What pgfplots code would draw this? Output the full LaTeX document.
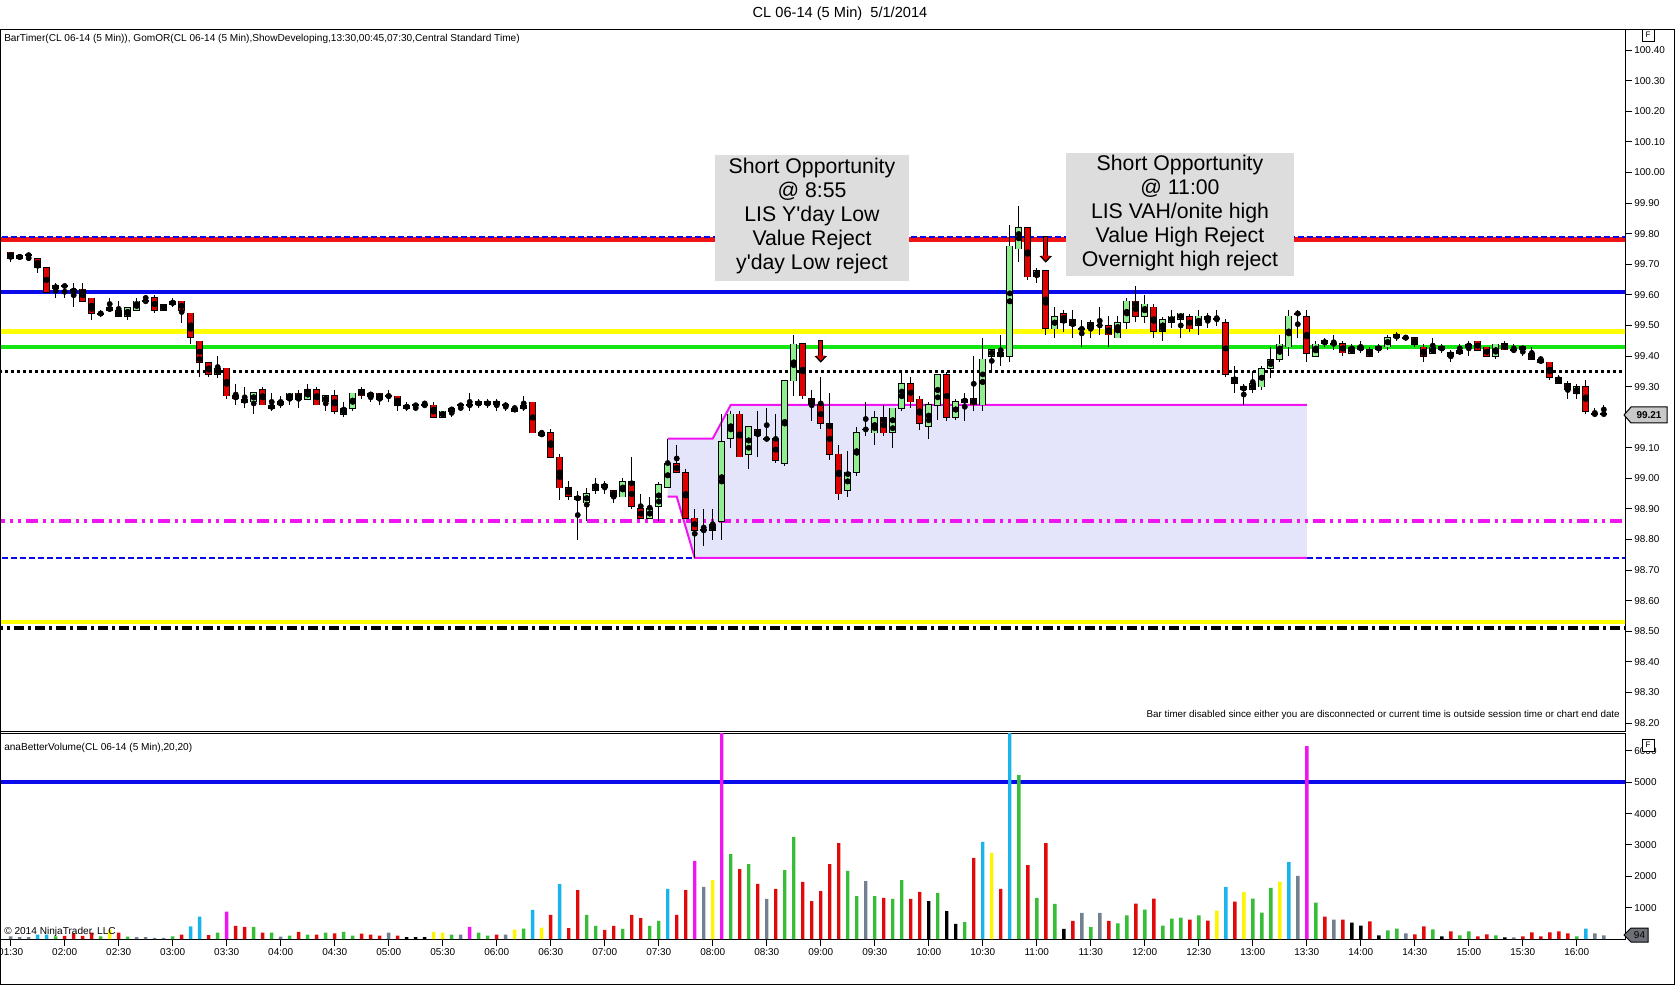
\documentclass[border=0pt]{standalone}
\usepackage{pgfplots}
\pgfplotsset{compat=1.18}
\usepackage{pgfplotstable}
\usepackage{fontspec}
\setmainfont{Liberation Sans}
\newfontfamily\boxfont{Liberation Sans}
\usetikzlibrary{arrows.meta}

\definecolor{lnred}{RGB}{240,20,20}
\definecolor{lnblue}{RGB}{10,10,235}
\definecolor{lnyellow}{RGB}{255,255,0}
\definecolor{lngreen}{RGB}{20,230,20}
\definecolor{lnmag}{RGB}{240,20,240}
\definecolor{cgreen}{RGB}{144,238,144}
\definecolor{cred}{RGB}{225,0,0}
\definecolor{vcyan}{RGB}{25,180,235}
\definecolor{vgreen}{RGB}{55,190,55}
\definecolor{vgray}{RGB}{115,128,145}
\definecolor{vred}{RGB}{225,10,10}
\definecolor{vyellow}{RGB}{255,245,0}
\definecolor{vmag}{RGB}{240,20,240}
\definecolor{orfill}{RGB}{228,228,250}
\definecolor{boxgray}{RGB}{221,221,221}
\definecolor{taggray}{RGB}{200,200,200}
\definecolor{tagdark}{RGB}{110,112,120}

\pgfplotstableread{
t o h l c
90 99.74 99.74 99.71 99.72
95 99.72 99.73 99.72 99.73
100 99.73 99.73 99.71 99.73
105 99.72 99.72 99.67 99.69
110 99.69 99.69 99.61 99.61
115 99.62 99.64 99.59 99.63
120 99.63 99.63 99.59 99.63
125 99.62 99.64 99.56 99.61
130 99.62 99.64 99.58 99.58
135 99.59 99.59 99.52 99.54
140 99.54 99.55 99.53 99.54
145 99.55 99.59 99.55 99.56
150 99.55 99.58 99.53 99.53
155 99.53 99.56 99.52 99.56
160 99.55 99.59 99.55 99.58
165 99.58 99.60 99.58 99.58
170 99.59 99.60 99.54 99.55
175 99.55 99.57 99.55 99.57
180 99.57 99.59 99.56 99.58
185 99.58 99.58 99.51 99.55
190 99.54 99.54 99.44 99.46
195 99.45 99.45 99.33 99.38
200 99.38 99.38 99.33 99.34
205 99.34 99.40 99.33 99.36
210 99.36 99.36 99.26 99.27
215 99.27 99.31 99.24 99.26
220 99.26 99.30 99.23 99.25
225 99.25 99.28 99.21 99.28
230 99.29 99.30 99.24 99.24
235 99.23 99.28 99.22 99.24
240 99.24 99.27 99.23 99.25
245 99.26 99.28 99.24 99.28
250 99.28 99.29 99.23 99.26
255 99.26 99.31 99.26 99.29
260 99.29 99.30 99.24 99.24
265 99.25 99.27 99.22 99.27
270 99.27 99.29 99.21 99.22
275 99.21 99.25 99.20 99.23
280 99.23 99.28 99.22 99.28
285 99.29 99.30 99.26 99.27
290 99.28 99.28 99.25 99.27
295 99.28 99.28 99.24 99.26
300 99.27 99.29 99.25 99.27
305 99.27 99.27 99.22 99.24
310 99.24 99.25 99.22 99.23
315 99.24 99.24 99.22 99.24
320 99.24 99.25 99.24 99.24
325 99.24 99.25 99.20 99.20
330 99.20 99.22 99.20 99.22
335 99.22 99.23 99.20 99.23
340 99.24 99.24 99.22 99.24
345 99.24 99.28 99.22 99.24
350 99.24 99.26 99.23 99.25
355 99.24 99.26 99.23 99.25
360 99.25 99.26 99.22 99.24
365 99.24 99.25 99.22 99.24
370 99.23 99.24 99.22 99.22
375 99.23 99.27 99.22 99.24
380 99.25 99.25 99.15 99.15
385 99.15 99.16 99.14 99.14
390 99.15 99.16 99.07 99.07
395 99.07 99.08 98.93 98.97
400 98.97 98.99 98.93 98.94
405 98.94 98.96 98.80 98.93
410 98.92 98.97 98.86 98.95
415 98.96 99.00 98.95 98.98
420 98.98 98.99 98.95 98.97
425 98.96 98.96 98.92 98.94
430 98.94 99.00 98.94 98.99
435 98.99 99.07 98.90 98.91
440 98.90 98.95 98.87 98.87
445 98.87 98.94 98.87 98.90
450 98.91 98.99 98.86 98.98
455 98.97 99.13 98.97 99.05
460 99.05 99.11 99.02 99.02
465 99.02 99.03 98.87 98.87
470 98.87 98.90 98.74 98.83
475 98.83 98.90 98.78 98.83
480 98.83 98.90 98.80 98.85
485 98.86 99.21 98.80 99.12
490 99.13 99.22 99.10 99.21
495 99.21 99.22 99.07 99.07
500 99.08 99.17 99.03 99.17
505 99.16 99.22 99.07 99.14
510 99.13 99.23 99.12 99.13
515 99.13 99.21 99.05 99.06
520 99.05 99.32 99.04 99.32
525 99.32 99.47 99.27 99.44
530 99.44 99.44 99.26 99.27
535 99.26 99.29 99.19 99.24
540 99.24 99.33 99.16 99.18
545 99.18 99.28 99.06 99.08
550 99.08 99.11 98.93 98.95
555 98.96 99.09 98.94 99.02
560 99.02 99.17 99.01 99.15
565 99.16 99.25 99.14 99.16
570 99.15 99.22 99.11 99.20
575 99.20 99.24 99.14 99.15
580 99.15 99.23 99.10 99.23
585 99.23 99.35 99.22 99.31
590 99.31 99.33 99.23 99.25
595 99.26 99.27 99.16 99.18
600 99.17 99.25 99.13 99.24
605 99.24 99.34 99.19 99.34
610 99.34 99.35 99.19 99.20
615 99.20 99.26 99.19 99.25
620 99.25 99.28 99.19 99.26
625 99.26 99.40 99.22 99.24
630 99.24 99.46 99.22 99.39
635 99.40 99.42 99.35 99.42
640 99.41 99.47 99.37 99.40
645 99.40 99.83 99.38 99.76
650 99.75 99.89 99.71 99.82
655 99.82 99.82 99.65 99.66
660 99.66 99.69 99.64 99.68
665 99.68 99.68 99.47 99.49
670 99.49 99.56 99.46 99.53
675 99.54 99.55 99.48 99.51
680 99.52 99.55 99.46 99.50
685 99.49 99.52 99.43 99.49
690 99.49 99.52 99.46 99.51
695 99.50 99.56 99.47 99.50
700 99.50 99.53 99.43 99.47
705 99.46 99.53 99.46 99.51
710 99.51 99.59 99.49 99.58
715 99.58 99.63 99.51 99.53
720 99.53 99.60 99.51 99.57
725 99.56 99.57 99.46 99.48
730 99.48 99.53 99.45 99.52
735 99.51 99.55 99.49 99.53
740 99.52 99.54 99.46 99.54
745 99.53 99.54 99.48 99.49
750 99.50 99.55 99.47 99.53
755 99.53 99.54 99.49 99.52
760 99.52 99.55 99.50 99.52
765 99.51 99.52 99.33 99.34
770 99.33 99.37 99.28 99.31
775 99.30 99.31 99.24 99.29
780 99.29 99.35 99.28 99.31
785 99.30 99.37 99.29 99.36
790 99.36 99.43 99.33 99.39
795 99.39 99.47 99.38 99.44
800 99.43 99.55 99.40 99.53
805 99.54 99.55 99.46 99.54
810 99.53 99.55 99.38 99.41
815 99.40 99.45 99.40 99.44
820 99.45 99.46 99.43 99.44
825 99.44 99.47 99.42 99.44
830 99.44 99.45 99.40 99.41
835 99.41 99.44 99.41 99.43
840 99.43 99.45 99.41 99.42
845 99.42 99.43 99.40 99.40
850 99.42 99.44 99.41 99.43
855 99.43 99.47 99.42 99.46
860 99.46 99.48 99.45 99.47
865 99.46 99.47 99.45 99.46
870 99.46 99.46 99.43 99.44
875 99.43 99.44 99.38 99.40
880 99.41 99.46 99.41 99.43
885 99.43 99.44 99.41 99.42
890 99.41 99.42 99.38 99.40
895 99.41 99.44 99.41 99.42
900 99.43 99.45 99.40 99.44
905 99.45 99.45 99.42 99.42
910 99.43 99.43 99.40 99.40
915 99.40 99.44 99.39 99.44
920 99.44 99.45 99.42 99.42
925 99.42 99.44 99.41 99.42
930 99.43 99.43 99.40 99.42
935 99.41 99.43 99.39 99.39
940 99.39 99.40 99.38 99.38
945 99.38 99.38 99.32 99.33
950 99.33 99.34 99.31 99.31
955 99.31 99.32 99.26 99.29
960 99.28 99.31 99.26 99.30
965 99.30 99.32 99.21 99.22
970 99.21 99.23 99.20 99.21
975 99.21 99.24 99.21 99.21
}\candles

\pgfplotsset{
  candlebar/.style={only marks, mark=none, forget plot,
    error bars/.cd, y dir=both, y explicit, error mark=none},
}

\begin{document}
\begin{tikzpicture}[x=0.75bp,y=0.75bp]
\useasboundingbox (0,0) rectangle (1680,985);
\fill[white] (0,0) rectangle (1680,985);

% ---------------- price panel ----------------
\begin{axis}[
  at={(0bp,189.75bp)}, anchor=south west,
  scale only axis, width=1218.75bp, height=526.5bp,
  xmin=84.06, xmax=986.8, ymin=98.1712, ymax=100.4667,
  xtick=\empty,
  ytick={98.2,98.3,98.4,98.5,98.6,98.7,98.8,98.9,99.0,99.1,99.2,99.3,99.4,99.5,99.6,99.7,99.8,99.9,100.0,100.1,100.2,100.3,100.4},
  ytick pos=right, yticklabel pos=right, tick align=outside,
  major tick length=5bp,
  tick style={black, line width=0.75bp},
  axis line style={line width=0.75bp},
  yticklabel style={font=\fontsize{7.5}{9}\selectfont, anchor=west, xshift=-1.5bp,
    /pgf/number format/fixed, /pgf/number format/fixed zerofill,
    /pgf/number format/precision=2, /pgf/number format/assume math mode=true},
]
% opening range box
\addplot[fill=orfill, draw=none, forget plot] coordinates {
  (455,99.13) (480,99.13) (490,99.24) (810,99.24)
  (810,98.74) (470,98.74) (460,98.94) (455,98.94)} -- cycle;
% horizontal levels
\addplot[lnred, line width=3.75bp] coordinates {(80,99.78) (990,99.78)};
\addplot[lnblue, line width=1.2bp, dash pattern=on 4.5bp off 2.25bp] coordinates {(80,99.79) (990,99.79)};
\addplot[lnblue, line width=3bp] coordinates {(80,99.61) (990,99.61)};
\addplot[lnyellow, line width=3.5bp] coordinates {(80,99.48) (990,99.48)};
\addplot[lngreen, line width=3.5bp] coordinates {(80,99.43) (990,99.43)};
\addplot[black, line width=2.25bp, dash pattern=on 2.25bp off 2.25bp] coordinates {(80,99.35) (990,99.35)};
\addplot[lnmag, line width=3bp, dash pattern=on 9bp off 3.75bp on 2.25bp off 3.75bp on 2.25bp off 3.75bp] coordinates {(80,98.86) (990,98.86)};
\addplot[lnblue, line width=1.2bp, dash pattern=on 4.5bp off 2.25bp] coordinates {(80,98.74) (990,98.74)};
\addplot[lnyellow, line width=3.5bp] coordinates {(80,98.53) (990,98.53)};
\addplot[black, line width=3bp, dash pattern=on 7.5bp off 3bp on 2.25bp off 3bp] coordinates {(80,98.51) (990,98.51)};
% opening range boundaries
\addplot[lnmag, line width=1.5bp] coordinates {(455,99.13) (480,99.13) (490,99.24) (810,99.24)};
\addplot[lnmag, line width=1.5bp] coordinates {(455,98.94) (460,98.94) (470,98.74) (810,98.74)};
% candles: wicks
\addplot[candlebar, error bar style={black, line width=0.75bp}]
  table[x=t, y expr={(\thisrow{h}+\thisrow{l})/2}, y error expr={(\thisrow{h}-\thisrow{l})/2}] {\candles};
% candles: body outlines
\addplot[candlebar, error bar style={black, line width=5.25bp}]
  table[x=t, y expr={(\thisrow{o}+\thisrow{c})/2}, y error expr={max(abs(\thisrow{c}-\thisrow{o})/2+0.0016,0.0028)}] {\candles};
% candles: up bodies
\addplot[candlebar, error bar style={cgreen, line width=3.9bp}]
  table[x=t, y expr={(\thisrow{c}>\thisrow{o}) ? (\thisrow{o}+\thisrow{c})/2 : 50},
    y error expr={(\thisrow{c}>\thisrow{o}) ? (\thisrow{c}-\thisrow{o})/2-0.0007 : 0}] {\candles};
% candles: down bodies
\addplot[candlebar, error bar style={cred, line width=3.9bp}]
  table[x=t, y expr={(\thisrow{c}<\thisrow{o}) ? (\thisrow{o}+\thisrow{c})/2 : 50},
    y error expr={(\thisrow{c}<\thisrow{o}) ? (\thisrow{o}-\thisrow{c})/2-0.0007 : 0}] {\candles};
% signal arrows
\addplot[black, line width=3.6bp, -{Triangle[length=5bp,width=9bp]}] coordinates {(540,99.452) (540,99.378)};
\addplot[cred, line width=2.1bp, -{Triangle[length=3.8bp,width=6.6bp]}] coordinates {(540,99.448) (540,99.385)};
\addplot[black, line width=3.6bp, -{Triangle[length=5bp,width=9bp]}] coordinates {(665,99.792) (665,99.705)};
\addplot[cred, line width=2.1bp, -{Triangle[length=3.8bp,width=6.6bp]}] coordinates {(665,99.788) (665,99.712)};
\end{axis}

% ---------------- volume panel ----------------
\begin{axis}[
  at={(0bp,34.5bp)}, anchor=south west,
  scale only axis, width=1218.75bp, height=154.5bp,
  xmin=84.06, xmax=986.8, ymin=0, ymax=6571,
  xtick={90,120,...,960},
  xticklabels={01:30,02:00,02:30,03:00,03:30,04:00,04:30,05:00,05:30,06:00,06:30,07:00,07:30,08:00,08:30,09:00,09:30,10:00,10:30,11:00,11:30,12:00,12:30,13:00,13:30,14:00,14:30,15:00,15:30,16:00},
  ytick={1000,2000,3000,4000,5000,6000},
  ytick pos=right, yticklabel pos=right, xtick pos=bottom, tick align=outside,
  major tick length=5bp,
  tick style={black, line width=0.75bp},
  axis line style={line width=0.75bp},
  xticklabel style={font=\fontsize{7.5}{9}\selectfont, yshift=1bp},
  yticklabel style={font=\fontsize{7.5}{9}\selectfont, anchor=west, xshift=-1.5bp,
    /pgf/number format/1000 sep={}, /pgf/number format/assume math mode=true},
]
\addplot[lnblue, line width=3bp] coordinates {(80,5000) (990,5000)};
\addplot[ybar, bar width=2.6bp, bar shift=0pt, fill=vgray, draw=none] coordinates {
(90,80) (95,60) (100,60) (160,60) (165,60) (170,40) (175,40) (240,75) (300,200) (340,140) (365,140) (475,1660) (510,1280) (565,1850) (685,830) (695,830) (805,2010) (825,620) (865,180) (925,50) (970,180) (975,115)};
\addplot[ybar, bar width=2.6bp, bar shift=0pt, fill=vcyan, draw=none] coordinates {
(105,140) (110,140) (190,400) (195,710) (380,930) (395,1750) (455,1600) (630,3100) (645,7000) (765,1660) (800,2450) (965,335)};
\addplot[ybar, bar width=2.6bp, bar shift=0pt, fill=vgreen, draw=none] coordinates {
(115,80) (140,80) (155,75) (180,85) (205,200) (225,390) (235,200) (245,105) (255,140) (265,200) (275,230) (280,105) (335,140) (350,200) (355,105) (375,330) (410,770) (415,415) (430,320) (445,415) (450,575) (490,2710) (500,2390) (520,2200) (525,3255) (555,2170) (560,1370) (570,1370) (580,1280) (585,1880) (605,1470) (620,540) (650,5230) (660,1310) (670,1120) (690,380) (705,495) (710,750) (720,940) (730,430) (735,650) (740,685) (750,750) (780,1285) (785,840) (790,1630) (815,1160) (855,275) (860,335) (880,305) (895,115) (900,240) (915,115) (960,85)};
\addplot[ybar, bar width=2.6bp, bar shift=0pt, fill=vred, draw=none] coordinates {
(120,100) (125,180) (130,100) (135,200) (150,200) (185,140) (200,120) (215,420) (220,390) (230,200) (250,230) (260,140) (270,180) (285,170) (290,140) (295,105) (305,105) (360,140) (390,770) (400,350) (405,1560) (420,290) (425,415) (435,770) (440,670) (460,770) (465,1560) (495,2230) (505,1755) (515,1600) (530,1820) (535,1210) (540,1530) (545,2390) (550,3060) (575,1310) (590,1280) (595,1500) (625,2590) (640,1600) (655,2360) (665,3060) (680,575) (700,575) (715,1130) (725,1285) (745,620) (755,590) (770,1190) (820,715) (830,620) (845,560) (870,150) (875,400) (890,240) (905,85) (910,150) (930,85) (935,210) (940,85) (945,210) (950,240) (955,180)};
\addplot[ybar, bar width=2.6bp, bar shift=0pt, fill=vyellow, draw=none] coordinates {
(145,300) (325,230) (330,200) (370,300) (385,360) (480,1880) (635,2745) (760,905) (775,1505) (795,1830)};
\addplot[ybar, bar width=2.6bp, bar shift=0pt, fill=vmag, draw=none] coordinates {
(210,870) (345,390) (470,2490) (485,7000) (810,6150)};
\addplot[ybar, bar width=2.6bp, bar shift=0pt, fill=black, draw=none] coordinates {
(310,60) (315,60) (320,60) (600,1210) (610,890) (615,480) (675,320) (835,525) (840,430) (850,115) (885,85) (920,50)};
\end{axis}

% ---------------- frame and texts ----------------
\draw[line width=0.75bp] (0.4,1) rectangle (1674,955);
\node[font=\fontsize{11}{13}\selectfont] at (840,971) {CL 06-14 (5 Min)\ \ 5/1/2014};
\node[anchor=west, font=\fontsize{7.6}{9}\selectfont, inner sep=0pt] at (4,946) {BarTimer(CL 06-14 (5 Min)), GomOR(CL 06-14 (5 Min),ShowDeveloping,13:30,00:45,07:30,Central Standard Time)};
\node[anchor=east, font=\fontsize{7.4}{9}\selectfont, inner sep=0pt] at (1620,270) {Bar timer disabled since either you are disconnected or current time is outside session time or chart end date};
\node[anchor=west, font=\fontsize{7.6}{9}\selectfont, inner sep=0pt] at (4,237) {anaBetterVolume(CL 06-14 (5 Min),20,20)};
\node[anchor=west, font=\fontsize{7.6}{9}\selectfont, inner sep=0pt] at (4,53) {\textcopyright\ 2014 NinjaTrader, LLC};
\node[draw, line width=0.6bp, fill=white, inner sep=1pt, minimum size=9bp, font=\fontsize{6}{7}\selectfont] at (1648,950) {F};
\node[draw, line width=0.6bp, fill=white, inner sep=1pt, minimum size=9bp, font=\fontsize{6}{7}\selectfont] at (1648,240) {F};
% annotation boxes
\fill[boxgray] (715,704) rectangle (909,830);
\node[align=center, font=\boxfont\fontsize{16}{18}\selectfont] at (812,769) {Short Opportunity\\@ 8:55\\LIS Y'day Low\\Value Reject\\y'day Low reject};
\fill[boxgray] (1066,709) rectangle (1294,832);
\node[align=center, font=\boxfont\fontsize{16}{18}\selectfont] at (1180,772) {Short Opportunity\\@ 11:00\\LIS VAH/onite high\\Value High Reject\\Overnight high reject};
% last price tags
\draw[fill=taggray, line width=0.75bp] (1624,570) -- (1631,578) -- (1667,578) -- (1667,562) -- (1631,562) -- cycle;
\node[font=\fontsize{7.5}{9}\selectfont\bfseries] at (1649,570) {99.21};
\draw[fill=tagdark, line width=0.75bp] (1624,50) -- (1631,57) -- (1648,57) -- (1648,43) -- (1631,43) -- cycle;
\node[font=\fontsize{7.5}{9}\selectfont] at (1639.5,50) {94};
\end{tikzpicture}
\end{document}
